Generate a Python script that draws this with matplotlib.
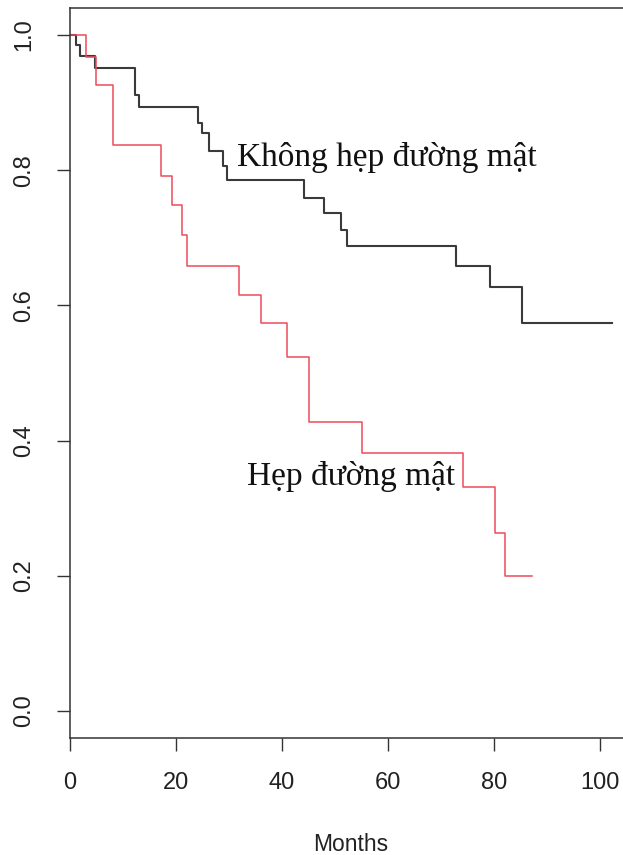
import matplotlib
matplotlib.use("Agg")
import matplotlib.pyplot as plt

# Kaplan-Meier step curves (months, survival probability)
time_no_stricture = [0, 1.2, 2.0, 4.8, 12.4, 13.0, 24.3, 24.9, 26.2, 29.0, 29.7,
                     44.2, 47.9, 51.2, 52.2, 72.9, 79.2, 85.2, 102.3]
surv_no_stricture = [1.0, 0.986, 0.969, 0.952, 0.911, 0.893, 0.870, 0.855, 0.828,
                     0.806, 0.786, 0.759, 0.737, 0.712, 0.688, 0.659, 0.628, 0.574, 0.574]

time_stricture = [0, 3.1, 4.9, 8.1, 17.3, 19.4, 21.2, 22.2, 32.0, 36.1, 41.0,
                  45.1, 55.1, 74.2, 80.1, 82.0, 87.2]
surv_stricture = [1.0, 0.967, 0.926, 0.838, 0.792, 0.748, 0.704, 0.659, 0.615,
                  0.574, 0.524, 0.428, 0.381, 0.331, 0.264, 0.200, 0.200]

label_no_stricture = "Không hẹp đường mật"
label_stricture = "Hẹp đường mật"

x_ticks = [0, 20, 40, 60, 80, 100]
y_ticks = [0.0, 0.2, 0.4, 0.6, 0.8, 1.0]

fig = plt.figure(figsize=(6.23, 8.55), dpi=100)
# axes run past the right edge, so the right frame line is cut off
ax = fig.add_axes([0.1116, 0.1368, 0.9037, 0.8538])

ax.step(time_no_stricture, surv_no_stricture, where="post",
        color="#3a3a3a", linewidth=1.5)
ax.step(time_stricture, surv_stricture, where="post",
        color="#ee4a5a", linewidth=1.1)

serif = ["Liberation Serif", "DejaVu Serif"]
ax.text(31.6, 0.807, label_no_stricture, family=serif, fontsize=24,
        ha="left", va="baseline", color="#111111")
ax.text(33.4, 0.335, label_stricture, family=serif, fontsize=24,
        ha="left", va="baseline", color="#111111")

ax.set_xlim(0, 106.1)
ax.set_ylim(-0.04, 1.04)
ax.set_xticks(x_ticks)
ax.set_yticks(y_ticks)
ax.set_xticklabels([str(v) for v in x_ticks])
ax.set_yticklabels([f"{v:.1f}" for v in y_ticks], rotation=90, va="center")

sans = "Liberation Sans"
for lab in ax.get_xticklabels() + ax.get_yticklabels():
    lab.set_family(sans)
    lab.set_fontsize(17)
    lab.set_color("#222222")

ax.tick_params(axis="both", direction="out", length=9.5, width=1.0,
               color="#333333")
ax.tick_params(axis="x", pad=15)
ax.tick_params(axis="y", pad=15)

ax.set_xlabel("Months", family=sans, fontsize=16.5, color="#222222", labelpad=28)

for side in ["left", "bottom", "top", "right"]:
    ax.spines[side].set_linewidth(1.1)
    ax.spines[side].set_color("#333333")

fig.savefig("out.png", dpi=100)
